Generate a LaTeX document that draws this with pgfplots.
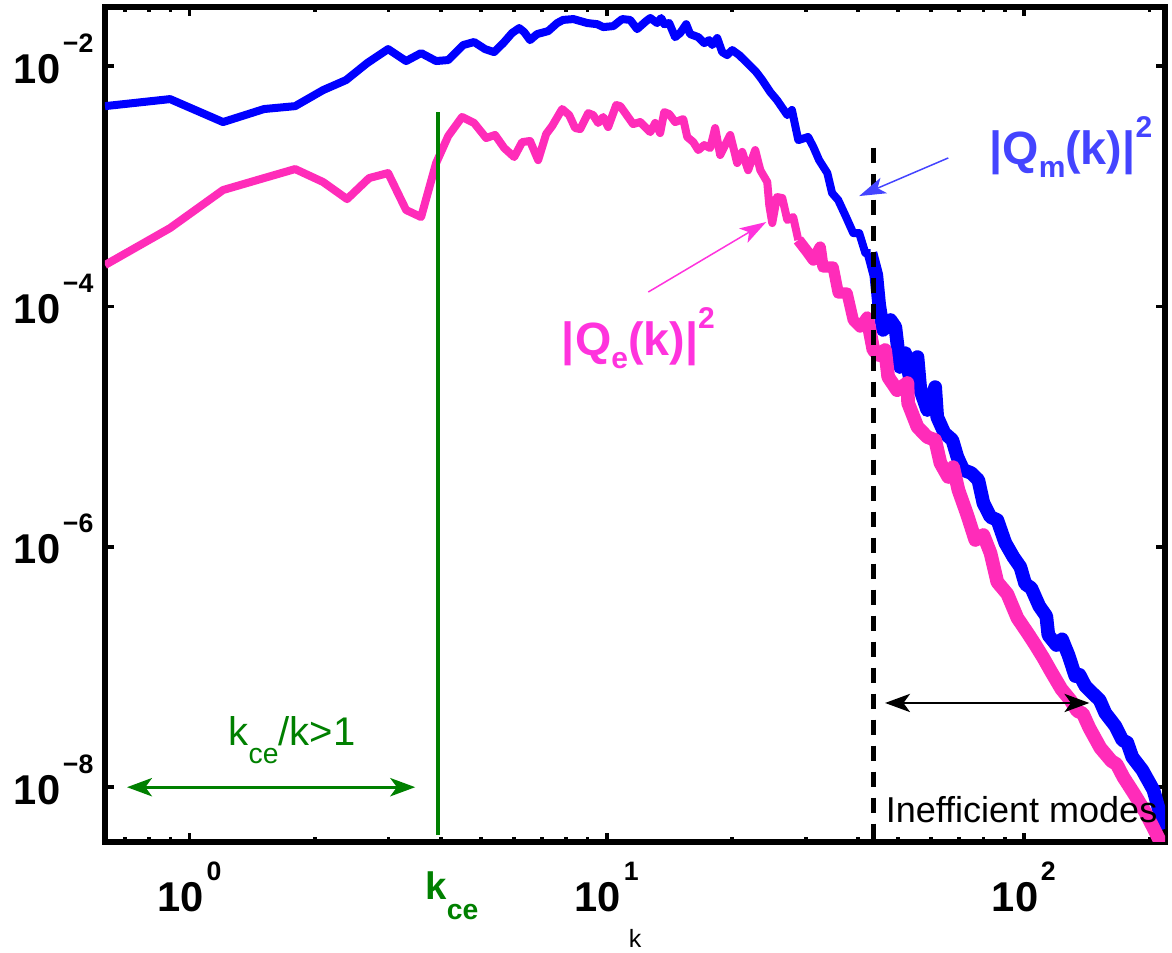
\documentclass[border=0pt]{standalone}
\usepackage{pgfplots}
\pgfplotsset{compat=1.18}
\usepackage{fontspec}
\setmainfont{Liberation Sans}
\usetikzlibrary{arrows.meta}
\definecolor{qblue}{RGB}{0,0,255}
\definecolor{qpink}{RGB}{255,44,185}
\definecolor{qelab}{RGB}{255,51,221}
\definecolor{qmlab}{RGB}{68,68,255}
\definecolor{mgreen}{RGB}{0,128,0}
\newcommand{\tlab}[1]{{\fontsize{12.5}{12.5}\selectfont\bfseries 10\kern0.8pt\raisebox{9.3pt}{\fontsize{8}{8}\selectfont\bfseries #1}}}
\begin{document}
\begin{tikzpicture}
\begin{axis}[
  name=ax,
  scale only axis,
  width=318pt, height=250.5pt,
  xmode=log, ymode=log,
  xmin=0.627, xmax=218,
  ymin=3.5e-9, ymax=3.1e-2,
  line width=1.6pt,
  xtick={1,10,100},
  xticklabels={{\tlab{0}},{\tlab{1}},{\tlab{2}}},
  minor xtick={0.7,0.8,0.9,2,3,4,5,6,7,8,9,20,30,40,50,60,70,80,90,200},
  ytick={1e-8,1e-6,1e-4,1e-2},
  yticklabels={{\tlab{−8}},{\tlab{−6}},{\tlab{−4}},{\tlab{−2}}},
  minor y tick style={draw=none},
  tick align=inside,
  major tick length=2.8pt,
  minor tick length=1.6pt,
  every tick/.style={black, line width=1.1pt},
  xticklabel style={anchor=base, inner sep=0pt, yshift=-21pt},
  yticklabel style={anchor=base east, inner sep=0pt, xshift=-2.7pt, yshift=-5.1pt},
  xlabel={\fontsize{7.5}{9}\selectfont k},
  xlabel style={at={(axis description cs:0.5,0)}, anchor=base, inner sep=0pt, yshift=-31.8pt},
]
% |Q_m(k)|^2, low k
\addplot[qblue, line width=2.4pt, line join=round] coordinates {
(0.627,4.64e-3) (0.898,5.31e-3) (1.203,3.42e-3) (1.509,4.39e-3) (1.791,4.64e-3)
(2.09,6.31e-3) (2.373,7.65e-3) (2.666,1.059e-2) (2.992,1.384e-2) (3.305,1.101e-2)
(3.59,1.282e-2) (3.90,1.101e-2) (4.17,1.122e-2) (4.53,1.496e-2) (4.81,1.585e-2)
(5.11,1.384e-2) (5.37,1.307e-2) (5.65,1.552e-2) (5.93,1.882e-2) (6.17,2.07e-2)
(6.34,1.92e-2) (6.55,1.644e-2) (6.81,1.845e-2) (7.24,1.954e-2) (7.61,2.28e-2)
(7.86,2.42e-2) (8.32,2.46e-2) (8.98,2.28e-2) (9.49,2.23e-2) (9.81,2.11e-2)
(10.37,2.15e-2) (10.89,2.46e-2) (11.38,2.42e-2) (11.83,2.03e-2) (12.44,2.37e-2)
(12.72,2.51e-2) (13.21,2.28e-2) (13.51,2.51e-2) (13.74,2.23e-2) (14.12,2.28e-2)
(14.59,1.74e-2) (15.0,1.882e-2) (15.51,2.23e-2) (15.85,1.845e-2) (16.58,1.74e-2)
(17.13,1.552e-2) (17.61,1.644e-2) (17.91,1.496e-2) (18.41,1.71e-2) (18.92,1.307e-2)
(19.45,1.234e-2) (20.0,1.358e-2) (20.78,1.234e-2) (21.73,1.059e-2) (22.83,8.91e-3)
(23.6,7.65e-3) (24.66,6.08e-3) (25.6,5.21e-3) (27.1,3.91e-3) (27.8,4.31e-3)
(28.8,2.42e-3) (30.4,2.57e-3) (31.3,2.12e-3) (32.3,1.65e-3) (33.8,1.288e-3)
(34.7,8.78e-4) (35.9,7.67e-4) (37.5,5.54e-4) (39.0,4.08e-4) (40.3,4.08e-4)
(41.7,2.78e-4) (42.9,2.78e-4)
};
% |Q_m(k)|^2, high k (noisy band)
\addplot[qblue, line width=4.1pt, line join=round] coordinates {
(42.9,2.78e-4) (44.3,1.82e-4) (45.0,1.028e-4) (46.0,6.37e-5)
(47.9,7.71e-5) (49.2,6.74e-5) (50.5,3.13e-5) (52.0,4.09e-5) (53.4,2.44e-5)
(55.6,3.79e-5) (56.5,2.01e-5) (58.7,1.374e-5) (61.3,2.13e-5) (62.0,1.202e-5)
(64.5,8.85e-6) (67.4,7.74e-6) (69.3,5.58e-6) (71.6,4.36e-6) (74.8,4.11e-6)
(77.8,3.60e-6) (80.0,2.31e-6) (83.2,1.77e-6) (86.4,1.67e-6) (90.3,1.076e-6)
(94.4,8.22e-7) (98.1,6.79e-7) (100.8,4.91e-7) (104.2,4.54e-7) (108.9,3.21e-7)
(113.2,2.65e-7) (114.5,1.845e-7) (119.7,1.524e-7) (123.5,1.70e-7) (127.9,1.259e-7)
(132.9,8.41e-8) (136.0,8.6e-8) (140.4,6.95e-8) (148.4,5.74e-8) (152.0,5.3e-8)
(156.8,4.14e-8) (165.7,3.23e-8) (172.2,2.47e-8) (177.0,2.35e-8) (182.0,1.782e-8)
(192.3,1.390e-8) (204.5,9.48e-9) (211.3,6.34e-9) (218,4.5e-9)
};
% |Q_e(k)|^2, low k
\addplot[qpink, line width=2.4pt, line join=round] coordinates {
(0.627,2.21e-4) (0.898,4.49e-4) (1.203,9.30e-4) (1.509,1.17e-3) (1.791,1.39e-3)
(2.09,1.084e-3) (2.386,7.82e-4) (2.695,1.17e-3) (2.992,1.288e-3) (3.305,6.34e-4)
(3.59,5.54e-4) (3.90,1.56e-3) (4.17,2.62e-3) (4.50,3.77e-3) (4.81,3.36e-3)
(5.14,2.52e-3) (5.40,2.67e-3) (5.68,2.08e-3) (6.00,1.75e-3) (6.27,2.33e-3)
(6.55,2.38e-3) (6.85,1.65e-3) (7.16,2.72e-3) (7.40,3.17e-3) (7.82,4.39e-3)
(8.13,3.91e-3) (8.40,3.05e-3) (8.64,2.99e-3) (9.03,4.06e-3) (9.28,3.91e-3)
(9.54,3.36e-3) (9.81,3.77e-3) (10.08,3.11e-3) (10.54,4.74e-3) (10.78,4.64e-3)
(11.57,3.29e-3) (12.03,3.42e-3) (12.72,2.82e-3) (13.07,3.36e-3) (13.43,2.77e-3)
(13.74,4.14e-3) (14.12,3.99e-3) (14.59,3.42e-3) (15.26,3.62e-3) (15.6,2.57e-3)
(16.13,2.33e-3) (16.58,2.0e-3) (17.13,2.20e-3) (17.71,2.08e-3) (18.2,3.05e-3)
(18.71,1.82e-3) (19.78,2.67e-3) (20.55,1.56e-3) (21.13,1.93e-3) (21.83,1.36e-3)
(22.7,2.0e-3) (23.35,1.36e-3) (24.26,1.084e-3) (24.53,6.98e-4) (24.94,4.94e-4)
(25.6,8.13e-4) (26.36,7.98e-4) (27.1,5.24e-4) (28.0,5.54e-4) (28.8,3.57e-4)
};
% |Q_e(k)|^2, high k (noisy band)
\addplot[qpink, line width=3.4pt, line join=round] coordinates {
(28.8,3.57e-4)
(30.3,2.84e-4) (31.3,2.43e-4) (32.5,3.12e-4) (33.0,2.13e-4) (34.9,2.13e-4)
(35.9,1.293e-4) (37.7,1.293e-4) (39.0,7.71e-5) (40.5,6.74e-5) (42.1,8.17e-5)
(43.6,4.34e-5)
};
\addplot[qpink, line width=4.1pt, line join=round] coordinates {
(42.1,8.17e-5) (43.6,4.34e-5) (45.0,3.94e-5) (46.5,4.34e-5) (47.3,2.59e-5) (49.7,2.01e-5)
(52.6,2.31e-5) (52.8,1.57e-5) (55.6,9.93e-6) (58.7,8.19e-6) (61.3,7.74e-6)
(63.1,4.98e-6) (65.9,3.81e-6) (67.7,4.61e-6) (69.7,2.97e-6) (73.2,1.84e-6)
(76.5,1.14e-6) (80.0,1.253e-6) (83.2,8.87e-7) (86.4,5.09e-7) (91.3,4.05e-7)
(96.5,2.56e-7) (102.5,1.88e-7) (106.6,1.524e-7) (111.4,1.189e-7) (116.4,9.08e-8)
(123.0,6.56e-8) (129.3,5.31e-8) (134.3,4.31e-8) (138.5,4.1e-8) (143.6,3.11e-8) (152.6,2.12e-8)
(162.2,1.652e-8) (167.0,1.55e-8) (173.2,1.216e-8) (184.0,8.77e-9) (195.4,6.22e-9) (204.5,4.58e-9)
(212.5,3.50e-9) (218,2.9e-9)
};
\addplot[mgreen, line width=1.3pt] coordinates {(3.945,4.14e-3) (3.945,4.0e-9)};
\addplot[black, line width=1.4pt, dash pattern=on 4.5pt off 3.3pt] coordinates {(43.6,2.1e-3) (43.6,3.5e-9)};
\draw[qmlab, line width=0.45pt, -{Stealth[length=8pt,width=5pt,inset=2pt]}] (axis cs:65.9,1.72e-3) -- (axis cs:40.3,8.29e-4);
\draw[qelab, line width=0.45pt, -{Stealth[length=8pt,width=5pt,inset=2pt]}] (axis cs:12.58,1.318e-4) -- (axis cs:24.13,5.04e-4);
\draw[black, line width=0.45pt, {Stealth[length=7.5pt,width=5.5pt,inset=2pt]}-{Stealth[length=7.5pt,width=5.5pt,inset=2pt]}] (axis cs:46.5,5.02e-8) -- (axis cs:143.6,5.02e-8);
\draw[mgreen, line width=0.8pt, {Stealth[length=7.5pt,width=5.5pt,inset=2pt]}-{Stealth[length=7.5pt,width=5.5pt,inset=2pt]}] (axis cs:0.708,1e-8) -- (axis cs:3.475,1e-8);
\node[anchor=base west, inner sep=0pt, text=qmlab, font=\fontsize{14}{14}\selectfont\bfseries] at (axis cs:81.5,1.53e-3) {|Q\raisebox{-4pt}{\fontsize{9}{9}\selectfont m}(k)|\raisebox{8pt}{\fontsize{9}{9}\selectfont 2}};
\node[anchor=base west, inner sep=0pt, text=qelab, font=\fontsize{14}{14}\selectfont\bfseries] at (axis cs:7.7,3.9e-5) {|Q\raisebox{-4pt}{\fontsize{9}{9}\selectfont e}(k)|\raisebox{8pt}{\fontsize{9}{9}\selectfont 2}};
\node[anchor=base west, inner sep=0pt, text=mgreen, font=\fontsize{12}{12}\selectfont] at (axis cs:1.223,2.24e-8) {k\raisebox{-5.4pt}{\fontsize{8.5}{8.5}\selectfont ce}/k>1};
\node[anchor=base west, inner sep=0pt, text=black, font=\fontsize{10.8}{10.8}\selectfont] at (axis cs:46.0,5.13e-9) {Inefficient modes};
\end{axis}
\node[anchor=base west, inner sep=0pt, text=mgreen, font=\fontsize{11.5}{11.5}\selectfont\bfseries, xshift=96pt, yshift=-17.4pt] at (ax.south west) {k\raisebox{-6pt}{\fontsize{8.5}{8.5}\selectfont ce}};
\pgfresetboundingbox
\path ([shift={(-31.5pt,-33.3pt)}]ax.south west) rectangle ([shift={(2.1pt,2.1pt)}]ax.north east);
\end{tikzpicture}
\end{document}
